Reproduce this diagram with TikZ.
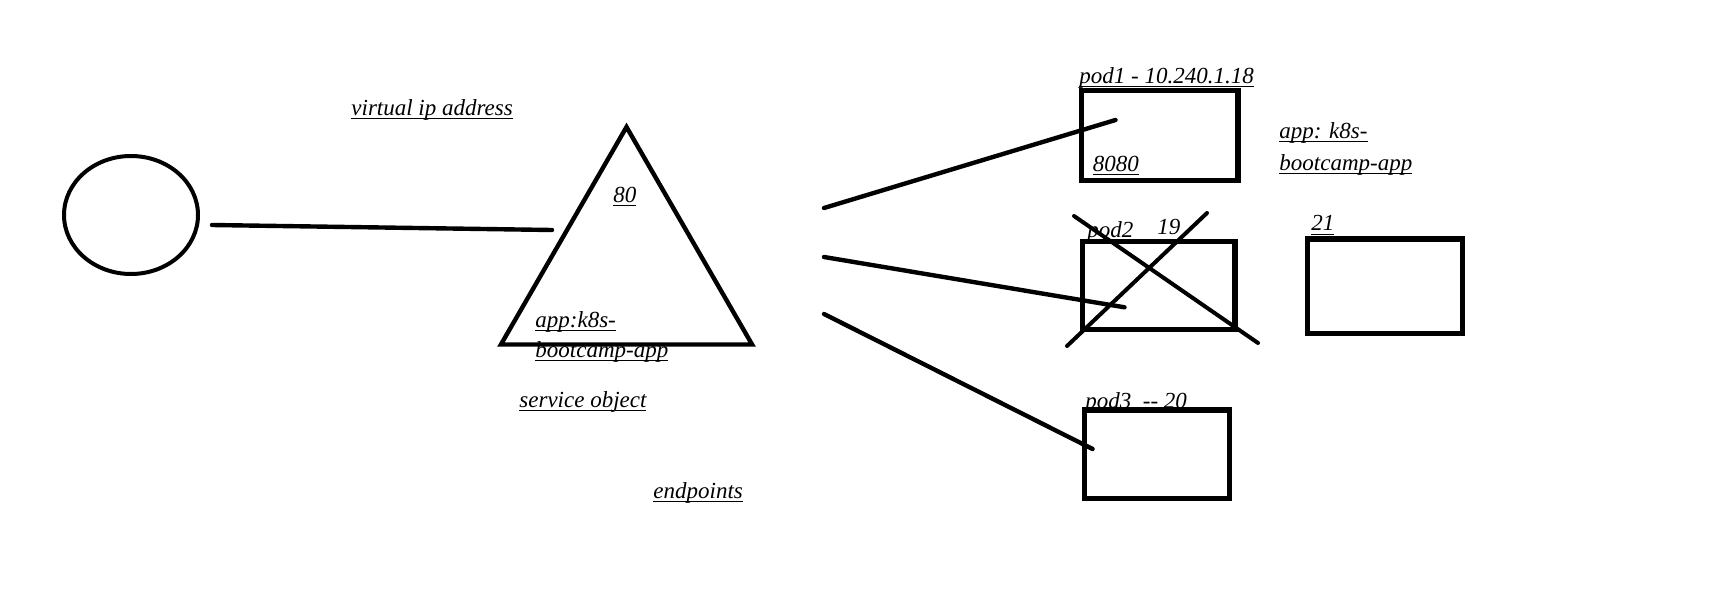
\documentclass[tikz,border=0pt]{standalone}
\usepackage{fontspec}
\setmainfont{Liberation Serif}
\usetikzlibrary{shapes.geometric}

% underline drawn just below the baseline, through the descenders
\newcommand{\ulab}[1]{\setbox0\hbox{#1}\rlap{\vrule height -1.4pt depth 1.9pt width \wd0}\box0}

\begin{document}
\begin{tikzpicture}[x=0.5pt, y=-0.5pt,
    every node/.style={font=\fontsize{11.5}{15}\selectfont\itshape, inner sep=0pt},
    lbl/.style={anchor=base west},
    podbox/.style={draw, rectangle, line width=2.7pt},
    wire/.style={line width=2.2pt, line cap=round}]

        \useasboundingbox (0,0) rectangle (1732,610);

        % Labels of the service side
        \node[lbl] (vip) at (351,115.6) {\ulab{virtual ip address}};
        \node[lbl] (port80) at (613,202) {\ulab{80}};
        \node[lbl] (svcsel1) at (535,327) {\ulab{app:k8s-}};
        \node[lbl] (svcsel2) at (535,357) {\ulab{bootcamp-app}};
        \node[lbl] (svcobj) at (519,407) {\ulab{service object}};
        \node[lbl] (eps) at (653,498) {\ulab{endpoints}};

        % Labels of the pods
        \node[lbl] (pod1lbl) at (1079,83.7) {\ulab{pod1 - 10.240.1.18}};
        \node[lbl] (pod1port) at (1092.5,171) {\ulab{8080}};
        \node[lbl] (podsel1) at (1279,138) {\ulab{app: k8s-}};
        \node[lbl] (podsel2) at (1279,170) {\ulab{bootcamp-app}};
        \node[lbl] (pod2lbl) at (1087,237) {\ulab{pod2}};
        \node[lbl] (pod2port) at (1157,234.3) {19};
        \node[lbl] (pod4port) at (1311,230.7) {\ulab{21}};
        \node[lbl] (pod3lbl) at (1085,408) {\ulab{pod3\ \ -{}- 20}};

        % Client and service
        \node[draw, ellipse, line width=2pt, minimum width=67pt, minimum height=59pt] (client) at (131,215) {};
        \node[draw, regular polygon, regular polygon sides=3, line width=2.2pt, minimum size=145pt] (service) at (626.5,272) {};

        % The pods
        \node[podbox, minimum width=78.3pt, minimum height=44.8pt] (pod1) at (1159.5,135.5) {};
        \node[podbox, minimum width=76.3pt, minimum height=43.8pt] (pod2) at (1158.5,285.5) {};
        \node[podbox, minimum width=77.7pt, minimum height=47.2pt] (pod4) at (1385,286) {};
        \node[podbox, minimum width=72.7pt, minimum height=44.2pt] (pod3) at (1157,454) {};

        % pod2 is crossed out
        \draw[wire, line width=2pt] (1074,216) -- (1258,343);
        \draw[wire, line width=2pt] (1207,213) -- (1067,346);

        % Connections
        \coordinate (vipin) at (552,230);
        \draw[wire] ([xshift=6pt, yshift=-5pt]client.east) -- (vipin);

        \coordinate (ep1) at (824,208);
        \coordinate (ep2) at (824,257);
        \coordinate (ep3) at (824,314);
        \draw[wire] (ep1) -- ([xshift=18.5pt, yshift=7.75pt]pod1.west);
        \draw[wire] (ep2) -- ([xshift=22.5pt, yshift=-10.9pt]pod2.west);
        \draw[wire] (ep3) -- ([xshift=5.5pt, yshift=2.5pt]pod3.west);

    \end{tikzpicture}
\end{document}
